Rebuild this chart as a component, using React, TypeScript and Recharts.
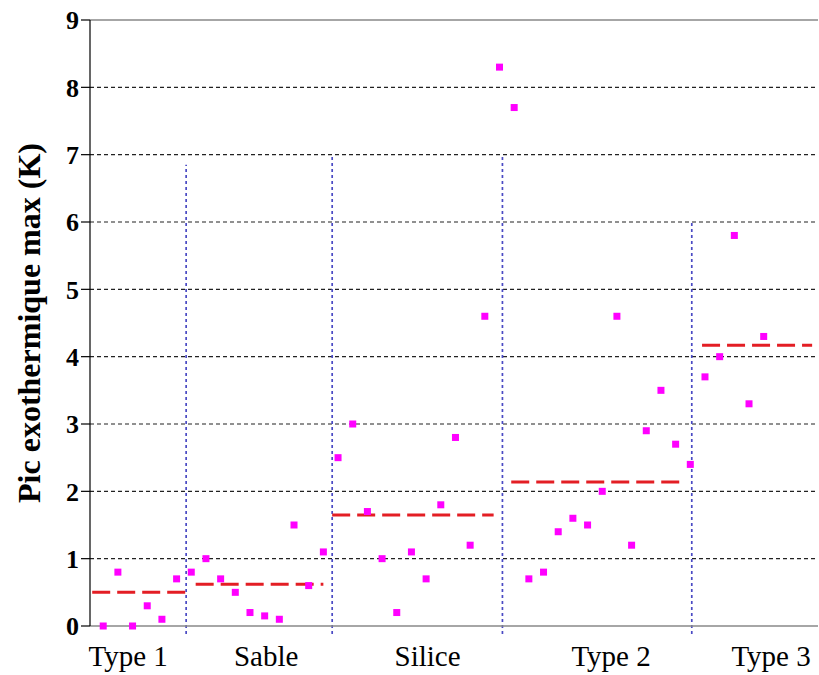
import React from 'react';
import { ComposedChart, Scatter, XAxis, YAxis, ReferenceLine, Label } from 'recharts';

// measured values per group, read left to right
const type1Values = [0, 0.8, 0, 0.3, 0.1, 0.7];
const sableValues = [0.8, 1.0, 0.7, 0.5, 0.2, 0.15, 0.1, 1.5, 0.6, 1.1];
const siliceValues = [2.5, 3.0, 1.7, 1.0, 0.2, 1.1, 0.7, 1.8, 2.8, 1.2, 4.6, 8.3];
const type2Values = [7.7, 0.7, 0.8, 1.4, 1.6, 1.5, 2.0, 4.6, 1.2, 2.9, 3.5, 2.7, 2.4];
const type3Values = [3.7, 4.0, 5.8, 3.3, 4.3];

const groupNames = ['Type 1', 'Sable', 'Silice', 'Type 2', 'Type 3'];
const groupLabelPos = [2.7, 12.1, 23.1, 35.6, 46.5];

// mean level of each group and its horizontal extent (in point index units)
const meanValues = [0.5, 0.62, 1.65, 2.14, 4.17];
const meanStart = [0.25, 7.3, 16.6, 28.8, 41.8];
const meanEnd = [6.6, 16.0, 27.6, 40.3, 49.3];

// blue separators between groups
const dividerPos = [6.65, 16.6, 28.2, 41.1];
const dividerTop = [6.85, 7, 7, 6];

const yTicks = [0, 1, 2, 3, 4, 5, 6, 7, 8, 9];
const gridValues = [1, 2, 3, 4, 5, 6, 7, 8];

const allValues = [...type1Values, ...sableValues, ...siliceValues, ...type2Values, ...type3Values];
const points = allValues.map((v, i) => ({ x: i + 1, y: v }));

const serif = '"Liberation Serif", "Times New Roman", serif';

const Square = (props: any) => {
  const { cx, cy } = props;
  return <rect x={cx - 3.5} y={cy - 3.5} width={7} height={7} fill="#ff00ff" />;
};

const YTitle = (props: any) => {
  const { viewBox } = props;
  const cx = 29;
  const cy = viewBox.y + viewBox.height / 2;
  return (
    <text
      x={cx}
      y={cy}
      transform={`rotate(-90, ${cx}, ${cy})`}
      textAnchor="middle"
      dominantBaseline="central"
      fontFamily={serif}
      fontWeight="bold"
      fontSize={32}
      fill="#000"
    >
      Pic exothermique max (K)
    </text>
  );
};

export default function App() {
  return (
    <div style={{ position: 'absolute', left: 0, top: 0, background: '#fff' }}>
      <ComposedChart width={819} height={675} margin={{ top: 20, right: 1, left: 0, bottom: 0 }}>
        <XAxis
          type="number"
          dataKey="x"
          domain={[0.1, 49.7]}
          ticks={groupLabelPos}
          tickFormatter={(v: number) => groupNames[groupLabelPos.indexOf(v)] ?? ''}
          interval={0}
          height={49}
          axisLine={{ stroke: '#888', strokeWidth: 1.5 }}
          tickLine={false}
          allowDataOverflow
          tick={{ fontFamily: serif, fontSize: 29, fill: '#000', dy: 11 }}
        />
        <YAxis
          type="number"
          dataKey="y"
          domain={[0, 9]}
          ticks={yTicks}
          interval={0}
          width={90}
          tickSize={9}
          axisLine={{ stroke: '#000', strokeWidth: 1.2 }}
          tickLine={{ stroke: '#000', strokeWidth: 1.2 }}
          tick={{ fontFamily: serif, fontSize: 26, fontWeight: 'bold', fill: '#000' }}
        >
          <Label content={<YTitle />} />
        </YAxis>

        {gridValues.map((g) => (
          <ReferenceLine key={`g${g}`} y={g} stroke="#222" strokeWidth={1.2} strokeDasharray="4 3" />
        ))}
        <ReferenceLine y={9} stroke="#888" strokeWidth={1.5} />

        {dividerPos.map((d, i) => (
          <ReferenceLine
            key={`d${i}`}
            segment={[{ x: d, y: -0.12 }, { x: d, y: dividerTop[i] }]}
            ifOverflow="visible"
            stroke="#4a4ac4"
            strokeWidth={1.7}
            strokeDasharray="3 3"
          />
        ))}

        {meanValues.map((m, i) => (
          <ReferenceLine
            key={`m${i}`}
            segment={[{ x: meanStart[i], y: m }, { x: meanEnd[i], y: m }]}
            ifOverflow="visible"
            stroke="#e31e24"
            strokeWidth={3}
            strokeDasharray="18 7"
          />
        ))}

        <Scatter data={points} shape={<Square />} isAnimationActive={false} />
      </ComposedChart>
    </div>
  );
}
